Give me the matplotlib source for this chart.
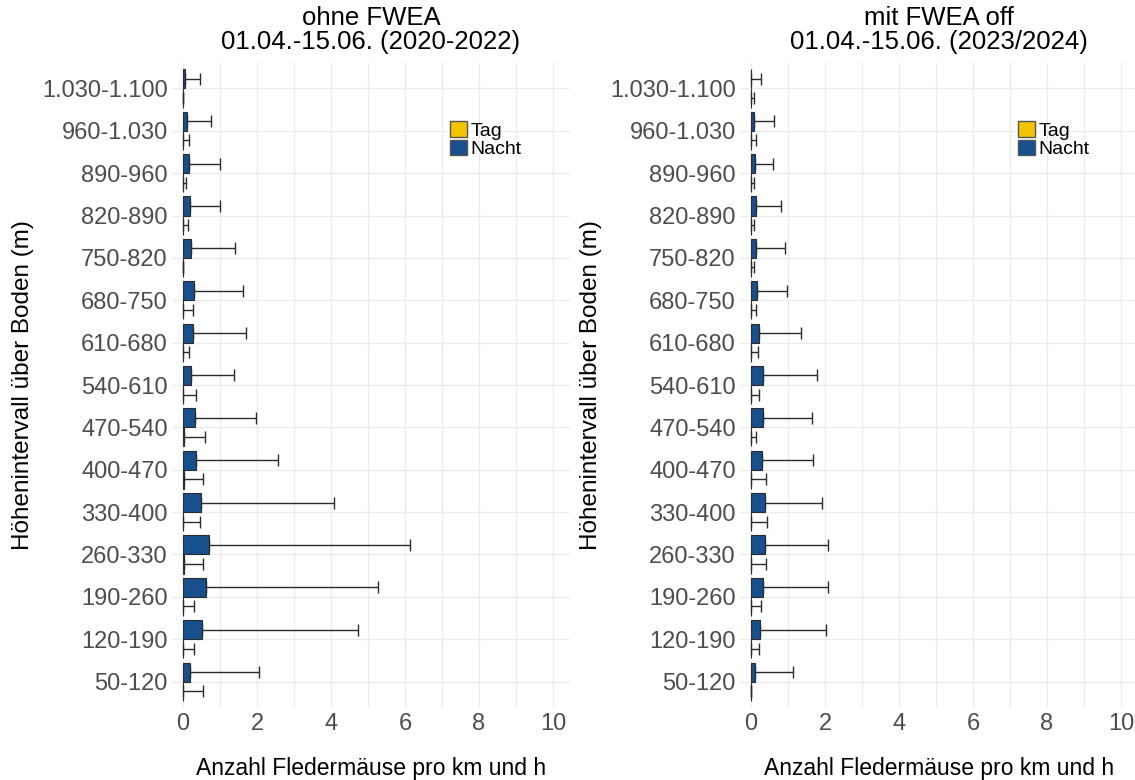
import numpy as np
import matplotlib
matplotlib.use("Agg")
import matplotlib.pyplot as plt
from matplotlib.patches import Patch

plt.rcParams['font.family'] = ['Liberation Sans', 'DejaVu Sans']

# height classes, bottom to top
hoehen = ['50-120', '120-190', '190-260', '260-330', '330-400', '400-470',
          '470-540', '540-610', '610-680', '680-750', '750-820', '820-890',
          '890-960', '960-1.030', '1.030-1.100']

# ohne FWEA (2020-2022)
nacht_ohne = [0.20, 0.52, 0.61, 0.71, 0.49, 0.36, 0.31, 0.21, 0.27, 0.29, 0.22, 0.18, 0.15, 0.11, 0.04]
nacht_ohne_sd = [1.84, 4.20, 4.65, 5.43, 3.58, 2.21, 1.66, 1.16, 1.43, 1.33, 1.19, 0.83, 0.84, 0.65, 0.43]
tag_ohne = [0.0, 0.0, 0.0, 0.02, 0.0, 0.02, 0.03, 0.0, 0.0, 0.0, 0.0, 0.0, 0.0, 0.0, 0.0]
tag_ohne_sd = [0.53, 0.29, 0.29, 0.53, 0.45, 0.52, 0.57, 0.34, 0.17, 0.26, 0.0, 0.12, 0.07, 0.15, 0.0]

# mit FWEA off (2023/2024)
nacht_mit = [0.11, 0.24, 0.31, 0.38, 0.38, 0.30, 0.33, 0.32, 0.22, 0.16, 0.13, 0.14, 0.10, 0.09, 0.01]
nacht_mit_sd = [1.02, 1.78, 1.76, 1.69, 1.55, 1.37, 1.31, 1.47, 1.12, 0.80, 0.80, 0.68, 0.50, 0.54, 0.27]
tag_mit = [0.0] * 15
tag_mit_sd = [0.0, 0.22, 0.27, 0.40, 0.44, 0.39, 0.12, 0.22, 0.19, 0.14, 0.08, 0.08, 0.08, 0.12, 0.09]

titel = ['ohne FWEA\n01.04.-15.06. (2020-2022)', 'mit FWEA off\n01.04.-15.06. (2023/2024)']

col_tag = '#F2C500'
col_nacht = '#184F8D'
col_edge = '#2b2b2b'

fig = plt.figure(figsize=(11.35, 7.8), dpi=100)
ax1 = fig.add_axes([172 / 1135, 0.0936, 398 / 1135, 0.8256])
ax2 = fig.add_axes([740 / 1135, 0.0936, 398 / 1135, 0.8256])

panels = [(ax1, nacht_ohne, nacht_ohne_sd, tag_ohne, tag_ohne_sd),
          (ax2, nacht_mit, nacht_mit_sd, tag_mit, tag_mit_sd)]

y = np.arange(len(hoehen))
h = 0.45
for i, (ax, n, nsd, t, tsd) in enumerate(panels):
    ax.barh(y + h / 2, n, height=h, color=col_nacht, edgecolor=col_edge, linewidth=0.8, zorder=3)
    ax.barh(y - h / 2, t, height=h, color=col_tag, edgecolor=col_edge, linewidth=0.8, zorder=3)
    ax.errorbar(n, y + h / 2, xerr=[np.zeros(len(n)), nsd], fmt='none', ecolor=col_edge,
                elinewidth=1, capsize=4, capthick=1, zorder=4)
    ax.errorbar(t, y - h / 2, xerr=[np.zeros(len(t)), tsd], fmt='none', ecolor=col_edge,
                elinewidth=1, capsize=4, capthick=1, zorder=4)

    ax.set_xlim(-0.3, 10.46)
    ax.set_ylim(-0.6, len(hoehen) - 0.4)
    ax.set_xticks([0, 2, 4, 6, 8, 10])
    ax.set_xticks([1, 3, 5, 7, 9], minor=True)
    ax.set_yticks(y)
    ax.set_yticklabels(hoehen)
    ax.grid(True, which='both', color='#ebebeb', linewidth=1, zorder=0)
    ax.set_axisbelow(True)
    for s in ax.spines.values():
        s.set_visible(False)
    ax.tick_params(which='both', length=0, labelsize=17, labelcolor='#4d4d4d')
    ax.tick_params(axis='y', pad=3)
    ax.tick_params(axis='x', pad=4)
    ax.set_xlabel('Anzahl Fledermäuse pro km und h', fontsize=16.5, labelpad=16)
    ax.set_ylabel('Höhenintervall über Boden (m)', fontsize=17.5, labelpad=6)
    ax.set_title(titel[i], fontsize=18.5, pad=10, linespacing=1.0)

    handles = [Patch(facecolor=col_tag, edgecolor='#555555'),
               Patch(facecolor=col_nacht, edgecolor='#555555')]
    ax.legend(handles, ['Tag', 'Nacht'], loc='upper left', bbox_to_anchor=(0.675, 0.925),
              frameon=False, fontsize=14, handlelength=0.85, handleheight=0.85,
              handletextpad=0.2, labelspacing=0.0, borderpad=0)

fig.savefig('out.png', dpi=100)
